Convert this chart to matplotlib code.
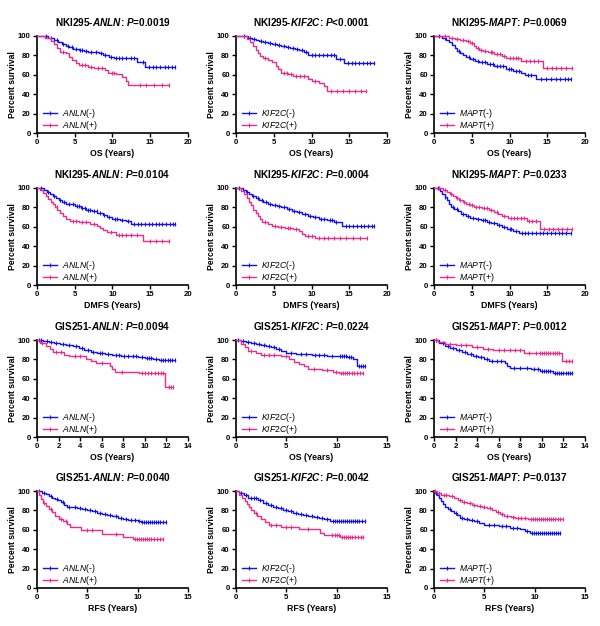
import numpy as np
import matplotlib
matplotlib.use('Agg')
import matplotlib.pyplot as plt
from matplotlib.lines import Line2D

plt.rcParams['font.family'] = ['Liberation Sans', 'DejaVu Sans']
plt.rcParams['mathtext.fontset'] = 'custom'
plt.rcParams['mathtext.it'] = 'Liberation Sans:italic'
plt.rcParams['mathtext.bf'] = 'Liberation Sans:italic:bold'
plt.rcParams['mathtext.rm'] = 'Liberation Sans'

BLUE = '#1010F5'
PINK = '#F02A8A'

# ---- data: event times, survival after event, censor times ----
# NKI295 OS - ANLN
nki_os_anln_neg_t = [1.5, 2.2, 2.8, 3.3, 3.8, 4.3, 4.8, 5.5, 6.2, 6.8, 7.5, 8.2, 8.8, 9.5, 10.2, 13.3, 14.3]
nki_os_anln_neg_s = [98, 96, 94, 92, 90, 89, 87, 86, 85, 84, 83, 82, 80, 78, 77, 73, 68]
nki_os_anln_neg_c = [1.2, 1.9, 2.6, 3.5, 4.1, 4.6, 5.1, 5.7, 6.0, 6.5, 7.2, 7.8, 8.5, 9.0, 9.8, 10.5, 10.9,
                     11.3, 11.8, 12.4, 12.9, 14.0, 14.8, 15.3, 15.8, 16.3, 16.9, 17.4, 17.9, 18.3]
nki_os_anln_pos_t = [1.0, 1.8, 2.2, 2.6, 3.0, 3.8, 4.3, 4.7, 5.2, 5.6, 6.8, 7.5, 9.0, 9.4, 10.5, 11.3, 11.8, 12.1]
nki_os_anln_pos_s = [98, 95, 92, 88, 84, 82, 78, 75, 72, 70, 68, 67, 65, 62, 61, 58, 54, 49]
nki_os_anln_pos_c = [3.4, 5.9, 6.3, 7.2, 8.1, 8.6, 9.9, 10.2, 13.6, 14.5, 15.5, 16.5, 17.5]

# NKI295 OS - KIF2C
nki_os_kif_neg_t = [1.6, 2.1, 2.6, 3.0, 3.6, 4.2, 4.8, 5.4, 6.0, 6.6, 7.2, 7.8, 8.4, 9.0, 9.6, 13.3, 14.3]
nki_os_kif_neg_s = [98, 97, 96, 95, 94, 93, 92, 91, 90, 89, 88, 87, 86, 84, 80, 76, 72]
nki_os_kif_neg_c = [1.0, 1.8, 2.4, 3.3, 3.9, 4.5, 5.1, 5.7, 6.3, 6.9, 7.5, 8.1, 8.7, 9.3, 10.0, 10.5, 11.0,
                    11.5, 12.0, 12.6, 13.0, 13.8, 14.8, 15.3, 15.8, 16.3, 16.8, 17.3, 17.8, 18.3]
nki_os_kif_pos_t = [1.4, 1.9, 2.3, 2.6, 2.9, 3.2, 3.6, 4.2, 4.8, 5.3, 5.6, 5.9, 6.9, 7.6, 9.5, 10.0, 11.0, 11.6, 12.0]
nki_os_kif_pos_s = [97, 94, 90, 86, 82, 79, 77, 75, 73, 69, 66, 62, 61, 59, 56, 54, 52, 48, 43]
nki_os_kif_pos_c = [3.8, 6.3, 6.7, 7.3, 8.0, 8.5, 9.0, 10.5, 12.6, 13.4, 14.2, 15.0, 15.8, 16.5, 17.2]

# NKI295 OS - MAPT
nki_os_mapt_neg_t = [1.0, 1.6, 2.0, 2.4, 2.8, 3.1, 3.5, 3.9, 4.3, 4.8, 5.4, 6.0, 7.0, 8.0, 9.5, 10.5, 11.5, 12.0, 13.5]
nki_os_mapt_neg_s = [98, 96, 94, 91, 88, 85, 82, 80, 78, 76, 74, 73, 71, 69, 66, 64, 62, 60, 56]
nki_os_mapt_neg_c = [0.6, 1.4, 3.3, 4.6, 5.1, 5.8, 6.4, 6.8, 7.4, 7.8, 8.4, 8.8, 9.2, 9.9, 10.2, 10.8, 11.2,
                     12.4, 12.8, 14.2, 14.9, 15.5, 16.1, 16.7, 17.3, 17.8, 18.2]
nki_os_mapt_pos_t = [2.0, 2.8, 3.5, 4.2, 4.8, 5.3, 5.6, 6.0, 6.5, 7.2, 8.0, 9.0, 9.6, 11.5, 14.4]
nki_os_mapt_pos_s = [98, 97, 96, 95, 93, 90, 88, 86, 85, 83, 81, 79, 77, 74, 67]
nki_os_mapt_pos_c = [1.5, 2.4, 3.0, 3.8, 4.5, 5.0, 5.8, 6.2, 6.8, 7.5, 7.7, 8.3, 8.7, 9.3, 10.0, 10.4, 10.8,
                     11.1, 12.2, 12.7, 13.2, 13.8, 15.0, 15.6, 16.2, 16.8, 17.5, 18.3]

# NKI295 DMFS - ANLN
nki_dm_anln_neg_t = [0.9, 1.3, 1.7, 2.1, 2.5, 2.9, 3.3, 3.8, 4.5, 5.0, 5.8, 6.5, 7.3, 8.0, 8.7, 9.3, 10.0, 11.0, 11.8, 12.5]
nki_dm_anln_neg_s = [98, 96, 94, 92, 90, 88, 86, 84, 83, 81, 79, 77, 76, 74, 72, 70, 68, 67, 66, 63]
nki_dm_anln_neg_c = [0.5, 1.5, 2.3, 3.1, 3.6, 4.2, 4.8, 5.3, 5.6, 6.0, 6.3, 6.8, 7.0, 7.6, 7.9, 8.3, 8.9, 9.6,
                     10.3, 10.6, 11.3, 12.1, 12.9, 13.4, 13.8, 14.3, 14.8, 15.2, 15.7, 16.2, 16.6, 17.1,
                     17.6, 18.0, 18.3]
nki_dm_anln_pos_t = [0.4, 0.8, 1.2, 1.5, 1.8, 2.1, 2.4, 2.7, 3.0, 3.4, 3.8, 4.4, 5.5, 7.0, 8.0, 8.4, 8.8, 9.3, 10.4, 14.0]
nki_dm_anln_pos_s = [98, 95, 92, 89, 86, 83, 80, 77, 74, 71, 68, 66, 65, 63, 61, 59, 57, 55, 52, 45]
nki_dm_anln_pos_c = [2.6, 4.8, 5.2, 6.0, 6.5, 7.5, 9.8, 10.8, 11.3, 11.8, 12.5, 13.2, 15.0, 15.8, 16.6, 17.5]

# NKI295 DMFS - KIF2C
nki_dm_kif_neg_t = [0.9, 1.3, 1.7, 2.1, 2.6, 3.1, 3.6, 4.2, 4.8, 5.4, 6.0, 6.7, 7.4, 8.1, 8.8, 9.5, 10.2,
                    11.0, 12.0, 13.0, 14.0]
nki_dm_kif_neg_s = [98, 96, 94, 92, 90, 88, 86, 84, 82, 81, 80, 78, 76, 75, 73, 71, 70, 68, 67, 65, 61]
nki_dm_kif_neg_c = [0.4, 1.5, 2.3, 2.9, 3.4, 4.0, 4.5, 5.1, 5.7, 6.3, 7.0, 7.7, 8.4, 9.1, 9.8, 10.5, 11.3,
                    11.7, 12.4, 12.7, 13.3, 14.6, 15.0, 15.5, 16.0, 16.5, 17.0, 17.5, 18.0, 18.3]
nki_dm_kif_pos_t = [0.7, 1.1, 1.4, 1.7, 2.0, 2.3, 2.6, 2.9, 3.2, 3.5, 4.2, 4.8, 5.6, 6.5, 7.5, 8.3, 8.7, 9.1, 10.5]
nki_dm_kif_pos_s = [97, 94, 90, 86, 82, 77, 74, 71, 68, 65, 63, 61, 60, 59, 58, 56, 53, 51, 48]
nki_dm_kif_pos_c = [3.8, 5.2, 6.0, 6.9, 7.2, 7.9, 9.6, 10.0, 11.0, 11.6, 12.2, 13.0, 13.8, 14.6, 15.5, 16.4, 17.3]

# NKI295 DMFS - MAPT
nki_dm_mapt_neg_t = [0.8, 1.1, 1.4, 1.7, 2.0, 2.3, 2.7, 3.2, 3.6, 4.2, 4.8, 5.5, 6.2, 7.0, 7.6, 8.3, 9.0,
                     9.7, 10.5, 11.2]
nki_dm_mapt_neg_s = [97, 94, 91, 88, 84, 80, 78, 76, 73, 71, 69, 68, 67, 65, 64, 62, 60, 58, 56, 54]
nki_dm_mapt_neg_c = [0.5, 1.5, 2.5, 3.0, 3.9, 4.5, 5.1, 5.8, 6.5, 6.8, 7.3, 7.9, 8.6, 9.3, 10.0, 10.2, 10.8,
                     11.6, 12.0, 12.5, 13.0, 13.5, 14.0, 14.5, 15.0, 15.5, 16.0, 16.5, 17.0, 17.5, 18.2]
nki_dm_mapt_pos_t = [1.2, 1.7, 2.1, 2.5, 2.9, 3.3, 3.8, 4.3, 4.8, 5.3, 6.3, 7.3, 8.0, 8.5, 9.0, 9.8, 12.3, 14.0]
nki_dm_mapt_pos_s = [98, 96, 94, 92, 90, 88, 86, 84, 82, 80, 79, 77, 75, 73, 71, 69, 66, 58]
nki_dm_mapt_pos_c = [0.6, 1.5, 2.3, 3.1, 3.5, 4.0, 4.6, 5.0, 5.6, 5.9, 6.6, 7.0, 7.6, 8.3, 9.3, 10.2, 10.6,
                     11.0, 11.5, 11.9, 12.6, 13.0, 13.5, 14.6, 15.2, 15.8, 16.4, 17.0, 17.6, 18.3]

# GIS251 OS - ANLN
gis_os_anln_neg_t = [0.6, 1.1, 1.6, 2.1, 2.7, 3.3, 3.9, 4.4, 5.0, 5.6, 6.3, 7.0, 7.8, 8.6, 9.4, 10.0, 10.8, 11.3]
gis_os_anln_neg_s = [99, 98, 97, 96, 95, 94, 92, 90, 88, 87, 86, 85, 84, 83, 82, 81, 80, 79]
gis_os_anln_neg_c = [0.2, 0.4, 0.9, 1.3, 1.8, 2.4, 3.0, 3.6, 4.2, 4.7, 5.2, 5.8, 6.0, 6.6, 7.3, 7.6, 8.1,
                     8.4, 8.9, 9.2, 9.7, 10.2, 10.4, 10.6, 11.0, 11.5, 11.7, 11.9, 12.1, 12.3, 12.5, 12.8]
gis_os_anln_pos_t = [0.3, 0.8, 1.2, 1.5, 2.5, 3.0, 4.5, 5.0, 5.5, 6.8, 7.0, 7.2, 9.5, 11.9]
gis_os_anln_pos_s = [97, 94, 91, 88, 85, 83, 80, 78, 76, 73, 70, 67, 66, 52]
gis_os_anln_pos_c = [0.5, 1.8, 2.2, 3.5, 4.0, 6.0, 7.9, 9.7, 10.0, 10.3, 10.6, 10.9, 11.2, 11.5, 11.7,
                     12.2, 12.4, 12.6]

# GIS251 OS - KIF2C
gis_os_kif_neg_t = [0.5, 1.0, 1.5, 2.0, 2.5, 3.0, 3.5, 4.0, 4.5, 5.0, 6.0, 7.5, 9.0, 10.0, 11.0, 11.6, 12.0]
gis_os_kif_neg_s = [99, 98, 97, 96, 95, 94, 93, 91, 89, 87, 86, 85, 84, 83, 82, 80, 73]
gis_os_kif_neg_c = [0.2, 0.7, 1.2, 1.8, 2.3, 2.8, 3.3, 3.8, 4.3, 5.5, 6.5, 7.0, 7.8, 8.2, 8.7, 9.5, 10.3,
                    10.5, 10.7, 10.9, 11.2, 11.4, 12.2, 12.4, 12.6, 12.8]
gis_os_kif_pos_t = [0.5, 0.9, 1.2, 2.0, 2.5, 4.5, 5.3, 5.8, 6.3, 6.8, 7.2, 8.5, 9.6, 10.2]
gis_os_kif_pos_s = [96, 93, 89, 87, 85, 83, 80, 77, 75, 73, 70, 69, 67, 66]
gis_os_kif_pos_c = [1.5, 2.8, 3.3, 3.8, 5.0, 7.7, 9.0, 9.9, 10.4, 10.6, 10.8, 11.0, 11.2, 11.5, 11.7,
                    12.0, 12.3, 12.6]

# GIS251 OS - MAPT
gis_os_mapt_neg_t = [0.5, 1.0, 1.5, 2.0, 2.6, 3.1, 3.6, 4.1, 4.6, 5.1, 6.6, 6.8, 7.0, 9.0, 9.8, 11.0]
gis_os_mapt_neg_s = [97, 94, 92, 90, 88, 86, 84, 82, 80, 78, 76, 73, 71, 70, 68, 66]
gis_os_mapt_neg_c = [0.2, 0.8, 1.3, 1.8, 2.3, 2.9, 3.4, 3.9, 4.4, 4.9, 5.4, 5.8, 6.2, 7.4, 8.0, 8.6, 9.3,
                     9.6, 10.0, 10.2, 10.4, 10.6, 10.8, 11.2, 11.4, 11.6, 11.8, 12.0, 12.2, 12.4, 12.6, 12.8]
gis_os_mapt_pos_t = [0.4, 1.0, 2.0, 3.5, 4.5, 5.5, 8.3, 11.9]
gis_os_mapt_pos_s = [98, 96, 95, 93, 91, 90, 87, 78]
gis_os_mapt_pos_c = [0.2, 1.5, 2.5, 3.0, 4.0, 5.0, 6.0, 6.5, 7.0, 7.5, 8.0, 8.8, 9.5, 9.8, 10.0, 10.2,
                     10.4, 10.6, 10.8, 11.0, 11.2, 11.4, 11.6, 12.2, 12.5, 12.8]

# GIS251 RFS - ANLN
gis_rfs_anln_neg_t = [0.5, 0.9, 1.2, 1.5, 1.8, 2.1, 2.4, 2.7, 3.0, 3.5, 4.0, 4.5, 5.0, 5.5, 6.0, 6.5, 7.0,
                      7.5, 8.0, 8.5, 9.0, 10.0, 10.3]
gis_rfs_anln_neg_s = [98, 97, 95, 93, 92, 91, 89, 86, 84, 83, 82, 81, 80, 79, 77, 76, 75, 74, 72, 71, 70, 69, 68]
gis_rfs_anln_neg_c = [0.2, 0.7, 1.4, 2.0, 2.6, 3.2, 3.8, 4.3, 4.8, 5.3, 5.8, 6.3, 6.8, 7.3, 7.8, 8.3, 8.8,
                      9.3, 9.7, 10.1, 10.4, 10.6, 10.8, 11.0, 11.2, 11.4, 11.6, 11.8, 12.0, 12.2, 12.5, 12.8]
gis_rfs_anln_pos_t = [0.2, 0.4, 0.6, 0.9, 1.2, 1.5, 1.8, 2.2, 2.6, 3.0, 3.3, 4.4, 6.5, 8.5, 9.5]
gis_rfs_anln_pos_s = [96, 92, 88, 85, 81, 78, 74, 71, 69, 66, 63, 60, 56, 53, 51]
gis_rfs_anln_pos_c = [0.7, 1.4, 2.4, 2.9, 5.0, 5.5, 7.8, 9.7, 9.9, 10.1, 10.3, 10.5, 10.7, 10.9, 11.1,
                      11.3, 11.6, 11.9, 12.2, 12.5]

# GIS251 RFS - KIF2C
gis_rfs_kif_neg_t = [0.3, 0.8, 1.2, 2.2, 2.7, 3.2, 3.7, 4.2, 4.7, 5.2, 5.7, 6.2, 6.7, 7.2, 7.7, 8.2, 8.7, 9.3]
gis_rfs_kif_neg_s = [98, 96, 93, 91, 88, 86, 84, 82, 80, 79, 77, 76, 75, 74, 73, 72, 71, 69]
gis_rfs_kif_neg_c = [0.5, 1.0, 1.5, 1.8, 2.0, 2.4, 3.0, 3.5, 4.0, 4.5, 5.0, 5.5, 6.0, 6.5, 7.0, 7.5, 8.0,
                     8.5, 9.0, 9.6, 9.8, 10.0, 10.2, 10.4, 10.6, 10.8, 11.0, 11.2, 11.4, 11.6, 11.8,
                     12.0, 12.2, 12.5, 12.8]
gis_rfs_kif_pos_t = [0.3, 0.6, 0.9, 1.1, 1.3, 1.5, 1.8, 2.1, 2.5, 2.9, 3.3, 4.5, 6.3, 8.3, 8.7, 10.3]
gis_rfs_kif_pos_s = [96, 93, 90, 87, 83, 80, 77, 74, 71, 68, 65, 63, 61, 57, 55, 53]
gis_rfs_kif_pos_c = [2.0, 3.5, 4.0, 5.0, 5.5, 7.2, 9.5, 9.8, 10.0, 10.2, 10.5, 10.7, 10.9, 11.1, 11.3,
                     11.5, 11.8, 12.1, 12.4, 12.6]

# GIS251 RFS - MAPT
gis_rfs_mapt_neg_t = [0.1, 0.3, 0.5, 0.7, 0.9, 1.1, 1.4, 1.7, 2.0, 2.3, 2.6, 3.0, 3.5, 4.0, 4.5, 5.0, 6.5,
                      7.5, 8.5, 9.0, 9.5]
gis_rfs_mapt_neg_s = [98, 96, 93, 90, 87, 84, 81, 79, 77, 75, 72, 71, 70, 69, 67, 65, 64, 62, 61, 59, 57]
gis_rfs_mapt_neg_c = [0.2, 1.6, 2.2, 2.8, 3.3, 3.8, 4.3, 5.5, 6.0, 6.8, 7.2, 7.8, 8.2, 9.2, 9.7, 9.9, 10.1,
                      10.3, 10.5, 10.7, 10.9, 11.1, 11.3, 11.5, 11.7, 11.9, 12.1, 12.3, 12.5]
gis_rfs_mapt_pos_t = [0.3, 0.7, 1.5, 2.0, 2.4, 2.8, 3.3, 3.8, 4.3, 4.8, 5.3, 5.8, 6.2, 6.6, 7.0, 7.6, 8.0, 9.3]
gis_rfs_mapt_pos_s = [98, 96, 95, 93, 91, 89, 88, 86, 85, 84, 82, 80, 78, 76, 74, 73, 72, 71]
gis_rfs_mapt_pos_c = [0.1, 0.5, 1.0, 1.2, 1.8, 2.6, 3.0, 3.6, 4.0, 4.6, 5.0, 5.6, 6.4, 6.8, 7.3, 7.8, 8.3,
                      8.6, 9.0, 9.6, 9.8, 10.0, 10.2, 10.4, 10.6, 10.8, 11.0, 11.2, 11.4, 11.6, 11.8,
                      12.0, 12.3, 12.5, 12.8]

cohorts = ['NKI295'] * 6 + ['GIS251'] * 6
genes = ['ANLN', 'KIF2C', 'MAPT'] * 4
pvals = ['=0.0019', '<0.0001', '=0.0069', '=0.0104', '=0.0004', '=0.0233',
         '=0.0094', '=0.0224', '=0.0012', '=0.0040', '=0.0042', '=0.0137']
xlabels = ['OS (Years)'] * 3 + ['DMFS (Years)'] * 3 + ['OS (Years)'] * 3 + ['RFS (Years)'] * 3
xmaxes = [20, 20, 20, 20, 20, 20, 14, 15, 14, 15, 15, 15]
xsteps = [5, 5, 5, 5, 5, 5, 2, 5, 2, 5, 5, 5]

neg_curves = [
    (nki_os_anln_neg_t, nki_os_anln_neg_s, nki_os_anln_neg_c),
    (nki_os_kif_neg_t, nki_os_kif_neg_s, nki_os_kif_neg_c),
    (nki_os_mapt_neg_t, nki_os_mapt_neg_s, nki_os_mapt_neg_c),
    (nki_dm_anln_neg_t, nki_dm_anln_neg_s, nki_dm_anln_neg_c),
    (nki_dm_kif_neg_t, nki_dm_kif_neg_s, nki_dm_kif_neg_c),
    (nki_dm_mapt_neg_t, nki_dm_mapt_neg_s, nki_dm_mapt_neg_c),
    (gis_os_anln_neg_t, gis_os_anln_neg_s, gis_os_anln_neg_c),
    (gis_os_kif_neg_t, gis_os_kif_neg_s, gis_os_kif_neg_c),
    (gis_os_mapt_neg_t, gis_os_mapt_neg_s, gis_os_mapt_neg_c),
    (gis_rfs_anln_neg_t, gis_rfs_anln_neg_s, gis_rfs_anln_neg_c),
    (gis_rfs_kif_neg_t, gis_rfs_kif_neg_s, gis_rfs_kif_neg_c),
    (gis_rfs_mapt_neg_t, gis_rfs_mapt_neg_s, gis_rfs_mapt_neg_c),
]
pos_curves = [
    (nki_os_anln_pos_t, nki_os_anln_pos_s, nki_os_anln_pos_c),
    (nki_os_kif_pos_t, nki_os_kif_pos_s, nki_os_kif_pos_c),
    (nki_os_mapt_pos_t, nki_os_mapt_pos_s, nki_os_mapt_pos_c),
    (nki_dm_anln_pos_t, nki_dm_anln_pos_s, nki_dm_anln_pos_c),
    (nki_dm_kif_pos_t, nki_dm_kif_pos_s, nki_dm_kif_pos_c),
    (nki_dm_mapt_pos_t, nki_dm_mapt_pos_s, nki_dm_mapt_pos_c),
    (gis_os_anln_pos_t, gis_os_anln_pos_s, gis_os_anln_pos_c),
    (gis_os_kif_pos_t, gis_os_kif_pos_s, gis_os_kif_pos_c),
    (gis_os_mapt_pos_t, gis_os_mapt_pos_s, gis_os_mapt_pos_c),
    (gis_rfs_anln_pos_t, gis_rfs_anln_pos_s, gis_rfs_anln_pos_c),
    (gis_rfs_kif_pos_t, gis_rfs_kif_pos_s, gis_rfs_kif_pos_c),
    (gis_rfs_mapt_pos_t, gis_rfs_mapt_pos_s, gis_rfs_mapt_pos_c),
]


def km(ax, t, s, cens, color):
    end = max(cens[-1], t[-1])
    tt = [0] + list(t) + [end]
    ss = [100] + list(s) + [s[-1]]
    ax.step(tt, ss, where='post', color=color, lw=1.0, clip_on=False, zorder=3)
    levels = np.array([100] + list(s))
    idx = np.searchsorted(t, cens, side='right')
    ax.plot(cens, levels[idx], ls='none', marker='|', ms=3.2, mew=0.8,
            color=color, clip_on=False, zorder=3)


fig = plt.figure(figsize=(6, 6.26), dpi=100)
W, H = 600, 626
lefts = [37, 236, 434]
bottoms = [133, 285, 437, 588]
aw, ah = 151, 97

for i in range(12):
    r, c = divmod(i, 3)
    ax = fig.add_axes([lefts[c] / W, 1 - bottoms[r] / H, aw / W, ah / H])
    km(ax, *neg_curves[i], BLUE)
    km(ax, *pos_curves[i], PINK)
    ax.set_xlim(0, xmaxes[i])
    ax.set_ylim(0, 100)
    ax.set_xticks(np.arange(0, xmaxes[i] + 0.1, xsteps[i]))
    ax.set_yticks([0, 20, 40, 60, 80, 100])
    for sp in ['top', 'right']:
        ax.spines[sp].set_visible(False)
    for sp in ['left', 'bottom']:
        ax.spines[sp].set_linewidth(1.2)
    ax.tick_params(direction='out', length=3, width=1.0, labelsize=5.6, pad=1.5)
    for lab in ax.get_xticklabels() + ax.get_yticklabels():
        lab.set_fontweight('bold')
    ax.set_xlabel(xlabels[i], fontsize=6.3, fontweight='bold', labelpad=2)
    ax.set_ylabel('Percent survival', fontsize=6.2, fontweight='bold', labelpad=1)
    g = genes[i]
    ax.set_title(cohorts[i] + '-$\\mathbf{' + g + '}$: $\\mathbf{P}$' + pvals[i],
                 fontsize=7.2, fontweight='bold', pad=7)
    handles = [Line2D([], [], color=BLUE, lw=1.0, marker='|', ms=3.2, mew=0.8),
               Line2D([], [], color=PINK, lw=1.0, marker='|', ms=3.2, mew=0.8)]
    labels = ['$\\mathit{' + g + '}$(-)', '$\\mathit{' + g + '}$(+)']
    ax.legend(handles, labels, loc='lower left', bbox_to_anchor=(0.02, -0.03),
              frameon=False, fontsize=6.2, handlelength=1.6, handletextpad=0.6,
              labelspacing=-0.1, borderaxespad=0.2, borderpad=0.2, numpoints=1)

fig.savefig('out.png', dpi=100)
